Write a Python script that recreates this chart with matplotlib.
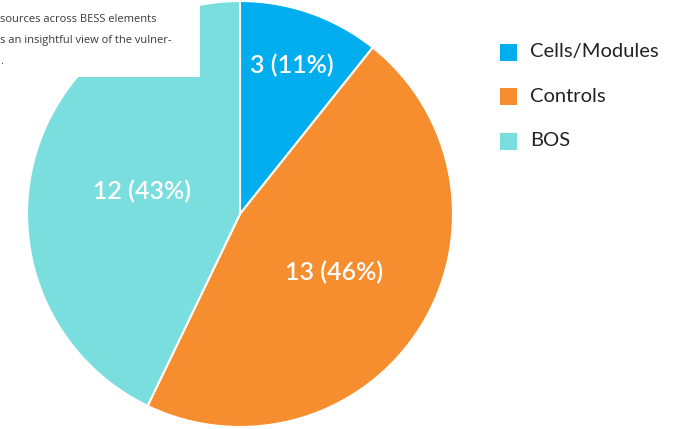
import matplotlib
matplotlib.use("Agg")
import matplotlib.pyplot as plt
from matplotlib.patches import Rectangle
import numpy as np

# slice data (clockwise from 12 o'clock)
categories = ["Cells/Modules", "Controls", "BOS"]
counts = [3, 13, 12]
colors = ["#00AEEF", "#F68D2E", "#7ADEDF"]
# how far out each value label sits, as a fraction of the radius
label_dist = [0.74, 0.52, 0.47]
# leftover caption text from the page the chart was cut from
caption_lines = ["sources across BESS elements", "s an insightful view of the vulner-", "."]

W, H = 676, 429
fig = plt.figure(figsize=(W / 100, H / 100), dpi=100)
ax = fig.add_axes([0, 0, 1, 1])

cx, cy, r = 240, H - 214, 213
wedges, _ = ax.pie(counts, colors=colors, startangle=90, counterclock=False,
                   center=(cx, cy), radius=r, frame=True,
                   wedgeprops=dict(edgecolor="white", linewidth=1.5))
ax.set_xlim(0, W)
ax.set_ylim(0, H)
ax.set_aspect("equal")
ax.axis("off")

total = sum(counts)
start = 90.0
for n, d in zip(counts, label_dist):
    sweep = n / total * 360
    mid = np.deg2rad(start - sweep / 2)
    start -= sweep
    ax.text(cx + d * r * np.cos(mid), cy + d * r * np.sin(mid),
            f"{n} ({n / total:.0%})", color="white", fontsize=18,
            family="Lato", weight="semibold", ha="center", va="center")

# white caption box over the top-left of the pie
ax.add_patch(Rectangle((0, H - 77), 200, 77, facecolor="white", edgecolor="none", zorder=5))
for i, line in enumerate(caption_lines):
    ax.text(0, H - 20 - 20.5 * i, line, fontsize=8, family="Open Sans",
            color="#3a3a3a", ha="left", va="center", zorder=6)

# legend squares + names
for i, (name, c) in enumerate(zip(categories, colors)):
    y = H - 52 - 44.5 * i
    ax.add_patch(Rectangle((500, y - 8.5), 17, 17, facecolor=c, edgecolor="none"))
    ax.text(530, y, name, fontsize=14.5, family="Lato", color="#222222",
            ha="left", va="center")

fig.savefig("out.png", dpi=100)
